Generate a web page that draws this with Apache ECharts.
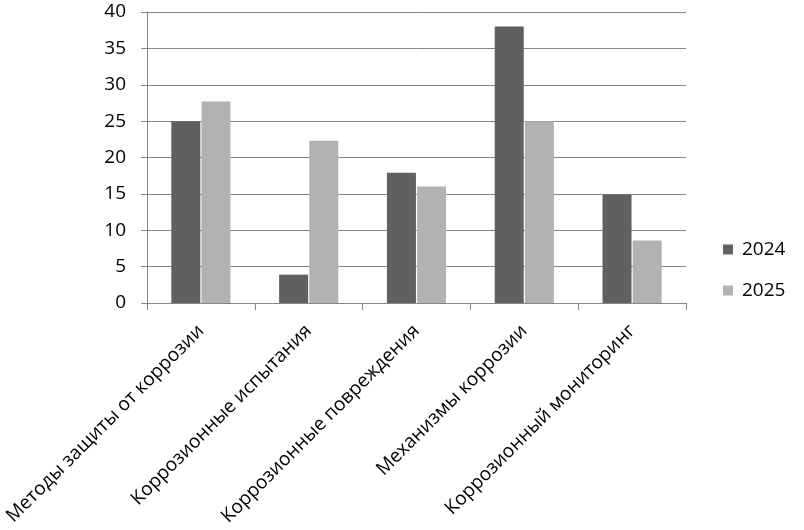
<!DOCTYPE html>
<html><head><meta charset="utf-8">
<script src="https://cdn.jsdelivr.net/npm/echarts@6/dist/echarts.min.js"></script>
<style>html,body{margin:0;padding:0;background:#fff}#c{width:804px;height:530px}</style>
</head><body><div id="c"></div>
<script>
const categories = ["Методы защиты от коррозии", "Коррозионные испытания", "Коррозионные повреждения", "Механизмы коррозии", "Коррозионный мониторинг"];
const seriesNames = ["2024", "2025"];
const values2024 = [25, 3.9, 17.9, 38, 14.9];
const values2025 = [27.7, 22.3, 16, 25, 8.6];
const FONT = "Open Sans";
const chart = echarts.init(document.getElementById('c'), null, {renderer: 'canvas'});
chart.setOption({
  animation: false,
  backgroundColor: '#fff',
  textStyle: {fontFamily: FONT},
  grid: {left: 147, right: 118, top: 12, bottom: 227, containLabel: false},
  legend: {
    orient: 'vertical', left: 718, top: 235, itemGap: 22,
    icon: 'rect', itemWidth: 10, itemHeight: 10,
    textStyle: {fontFamily: FONT, fontSize: 19, color: '#000', padding: [0,0,0,4]},
    data: seriesNames
  },
  xAxis: {
    type: 'category', data: categories,
    axisLine: {lineStyle: {color: '#868686', width: 1}},
    axisTick: {show: true, length: 7, lineStyle: {color: '#868686'}},
    axisLabel: {rotate: 45, fontFamily: FONT, fontSize: 19, color: '#000', margin: 25, interval: 0}
  },
  yAxis: {
    type: 'value', min: 0, max: 40, interval: 5,
    axisLine: {show: true, lineStyle: {color: '#868686', width: 1}},
    axisTick: {show: true, length: 6, lineStyle: {color: '#868686'}},
    splitLine: {lineStyle: {color: '#868686', width: 1}},
    axisLabel: {fontFamily: FONT, fontSize: 19, color: '#000', margin: 21}
  },
  series: [
    {name: seriesNames[0], type: 'bar', data: values2024, barWidth: 29, barGap: '4%', itemStyle: {color: '#606060'}},
    {name: seriesNames[1], type: 'bar', data: values2025, barWidth: 29, barGap: '4%', itemStyle: {color: '#b2b2b2'}}
  ]
});
</script></body></html>
